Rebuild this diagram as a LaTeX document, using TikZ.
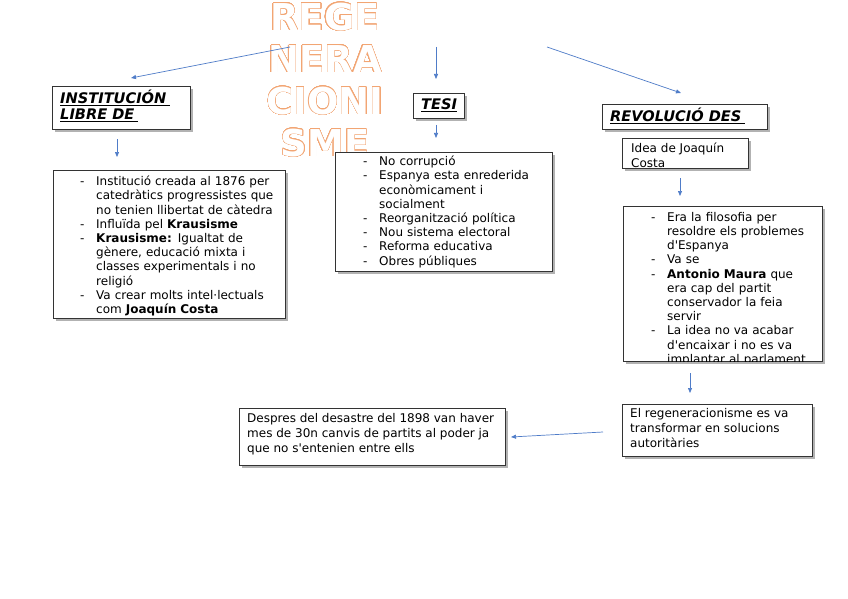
\documentclass[tikz,border=0pt]{standalone}
\usepackage{fontspec}
\setmainfont{DejaVu Sans}[Ligatures=TeXOff]
\usepackage{contour}
\contourlength{0.38pt}
\contournumber{32}
\usetikzlibrary{arrows.meta,shadows}
\definecolor{arr}{RGB}{79,124,200}
\definecolor{ttl}{RGB}{242,165,115}
\newcommand{\itm}[1]{\hangindent=16pt\hangafter=1\noindent\makebox[16pt][l]{-}#1\par}
\newcommand{\ttlline}[1]{\contour{ttl}{\color{white}#1}}
\begin{document}
\begin{tikzpicture}[x=1pt,y=-1pt,
 box/.style={draw=black!80,line width=0.7pt,fill=white,anchor=north west,inner sep=0pt,
   drop shadow={shadow xshift=2.5pt,shadow yshift=-2.5pt,fill=black!50,opacity=0.6}},
 txt/.style={anchor=north west,inner sep=0pt,align=left,font=\fontsize{12}{14.2}\selectfont},
 txtb/.style={anchor=north west,inner sep=0pt,align=left,font=\fontsize{12}{15}\selectfont},
 hd/.style={anchor=west,inner sep=0pt,font=\fontsize{14.6}{17}\selectfont\bfseries\itshape},
 con/.style={draw=arr,line width=0.7pt,-{Triangle[length=5pt,width=4pt]}}]

\useasboundingbox[fill=white] (0,0) rectangle (848,599);

% title
\node[font=\fontsize{37}{42}\selectfont\bfseries,align=center,inner sep=0pt] (title) at (325,80)
 {\ttlline{REGE}\\\ttlline{NERA}\\\ttlline{CIONI}\\\ttlline{SME}};

% header boxes
\node[box,minimum width=138pt,minimum height=43pt] (inst) at (52,86) {};
\node[hd] (instT1) at (60,98) {\underline{INSTITUCIÓN\hspace{4pt}}};
\node[hd] (instT2) at (60,115) {\underline{LIBRE DE\hspace{4pt}}};

\node[box,minimum width=51pt,minimum height=25pt] (tesi) at (413,93) {};
\node[hd] (tesiT) at (421,105) {\underline{TESI}};

\node[box,minimum width=165pt,minimum height=25pt] (rev) at (602,104) {};
\node[hd] (revT) at (610,116) {\underline{REVOLUCIÓ DES\hspace{4pt}}};

\node[box,minimum width=126pt,minimum height=30pt] (idea) at (622,138) {};
\begin{scope}
\clip (622,138) rectangle (748,168);
\node[txtb] (ideaT) at (631,143) {Idea de Joaquín\\Costa};
\end{scope}

% content boxes
\node[box,minimum width=232pt,minimum height=148pt] (instC) at (53,170) {};
\node[txt,text width=230pt] (instCT) at (80,176) {%
\itm{Institució creada al 1876 per\newline catedràtics progressistes que\newline no tenien llibertat de càtedra}%
\itm{Influïda pel \textbf{Krausisme}}%
\itm{\textbf{Krausisme:} Igualtat de\newline gènere, educació mixta i\newline classes experimentals i no\newline religió}%
\itm{Va crear molts intel·lectuals\newline com \textbf{Joaquín Costa}}};

\node[box,minimum width=217pt,minimum height=119pt] (tesiC) at (335,152) {};
\node[txt,text width=210pt] (tesiCT) at (363,156) {%
\itm{No corrupció}%
\itm{Espanya esta enrederida\newline econòmicament i\newline socialment}%
\itm{Reorganització política}%
\itm{Nou sistema electoral}%
\itm{Reforma educativa}%
\itm{Obres públiques}};

\node[box,minimum width=199pt,minimum height=155pt] (revC) at (623,206) {};
\begin{scope}
\clip (623,206) rectangle (822,361);
\node[txt,text width=190pt] (revCT) at (651,212) {%
\itm{Era la filosofia per\newline resoldre els problemes\newline d'Espanya}%
\itm{Va se}%
\itm{\textbf{Antonio Maura} que\newline era cap del partit\newline conservador la feia\newline servir}%
\itm{La idea no va acabar\newline d'encaixar i no es va\newline implantar al parlament}};
\end{scope}

\node[box,minimum width=190pt,minimum height=52pt] (regC) at (622,404) {};
\node[txtb] (regCT) at (630,408) {El regeneracionisme es va\\transformar en solucions\\autoritàries};

\node[box,minimum width=266pt,minimum height=57pt] (desC) at (239,408) {};
\node[txtb] (desCT) at (247,413) {Despres del desastre del 1898 van haver\\mes de 30n canvis de partits al poder ja\\que no s'entenien entre ells};

% connectors
\coordinate (a1s) at (290,47); \coordinate (a1e) at (131,78);
\coordinate (a2s) at (436,47); \coordinate (a2e) at (436,79);
\coordinate (a3s) at (547,47); \coordinate (a3e) at (681,93);
\coordinate (a4s) at (117,139); \coordinate (a4e) at (117,157);
\coordinate (a5s) at (436,125); \coordinate (a5e) at (436,138);
\coordinate (a6s) at (680,178); \coordinate (a6e) at (680,196);
\coordinate (a7s) at (690,373); \coordinate (a7e) at (690,393);
\coordinate (a8s) at (603,432); \coordinate (a8e) at (511,437);
\draw[con] (a1s) -- (a1e);
\draw[con] (a2s) -- (a2e);
\draw[con] (a3s) -- (a3e);
\draw[con] (a4s) -- (a4e);
\draw[con] (a5s) -- (a5e);
\draw[con] (a6s) -- (a6e);
\draw[con] (a7s) -- (a7e);
\draw[con] (a8s) -- (a8e);
\end{tikzpicture}
\end{document}
